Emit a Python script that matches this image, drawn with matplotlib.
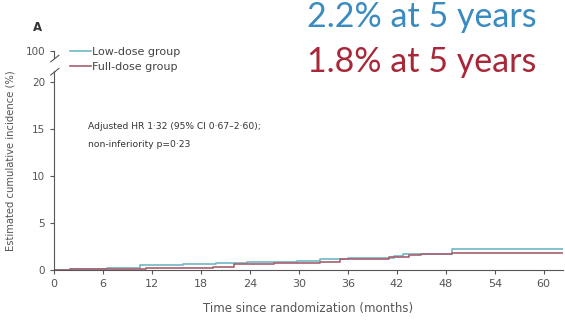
import matplotlib
matplotlib.use("Agg")
import matplotlib.pyplot as plt

# step-curve data (months, cumulative incidence %)
months_low = [0, 2, 6.5, 10.5, 15.8, 19.8, 23.7, 29.8, 32.6, 36, 41.6, 42.8, 48.8, 62.3]
inc_low    = [0, 0.1, 0.25, 0.5, 0.6, 0.7, 0.85, 1.0, 1.15, 1.3, 1.55, 1.75, 2.2, 2.2]
months_full = [0, 2, 11.3, 19.5, 22, 27, 32.6, 35, 41, 43.5, 45, 48.8, 62.3]
inc_full    = [0, 0.1, 0.2, 0.35, 0.6, 0.7, 0.9, 1.2, 1.4, 1.6, 1.7, 1.8, 1.8]

x_ticks = [0, 6, 12, 18, 24, 30, 36, 42, 48, 54, 60]
y_ticks = [0, 5, 10, 15, 20]
y_top = 23.3          # where "100" sits above the axis break
labels = ["Low-dose group", "Full-dose group"]
callouts = ["2.2% at 5 years", "1.8% at 5 years"]

TEAL, RED = "#6fb8c6", "#a8606e"
GREY = "#555555"

fig = plt.figure(figsize=(5.65, 3.25), dpi=100)
ax = fig.add_axes([0.0956, 0.169, 0.9, 0.674])

l1, = ax.step(months_low, inc_low, where="post", color=TEAL, lw=1.2, label=labels[0])
l2, = ax.step(months_full, inc_full, where="post", color=RED, lw=1.2, label=labels[1])

ax.set_xlim(0, 62.3)
ax.set_ylim(0, y_top)
ax.set_xticks(x_ticks)
ax.set_yticks(y_ticks + [y_top])
ax.set_yticklabels([str(v) for v in y_ticks] + ["100"])
ax.tick_params(colors=GREY, length=3, width=0.8)
ax.tick_params(axis="x", labelsize=8)
ax.tick_params(axis="y", labelsize=7.5)
for s in ["top", "right"]:
    ax.spines[s].set_visible(False)
for s in ["left", "bottom"]:
    ax.spines[s].set_color(GREY)
    ax.spines[s].set_linewidth(0.8)
ax.spines["left"].set_bounds(0, 21.2)
# short bit of axis next to the 100 tick and the break marks
ax.plot([0, 0], [22.6, y_top], color=GREY, lw=0.8, clip_on=False)
for yb in (21.1, 22.5):
    ax.plot([-0.4, 0.6], [yb - 0.35, yb + 0.35], color=GREY, lw=0.8, clip_on=False)

ax.set_xlabel("Time since randomization (months)", fontsize=8.5, color=GREY, labelpad=9)
ax.set_ylabel("Estimated cumulative incidence (%)", fontsize=7.2, color=GREY, labelpad=7)

ax.legend(handles=[l1, l2], loc="upper left", bbox_to_anchor=(0.106, 0.885),
          bbox_transform=fig.transFigure, frameon=False, fontsize=8,
          handlelength=1.9, handletextpad=0.1, labelspacing=0.4, labelcolor="#444444")

ax.text(4.2, 15.7, "Adjusted HR 1·32 (95% CI 0·67–2·60);\nnon-inferiority p=0·23",
        fontsize=6.6, color="#333333", va="top", linespacing=2.2)

fig.text(0.058, 0.915, "A", fontsize=8.5, fontweight="bold", color="#333333", ha="left", va="center")
fig.text(0.543, 0.917, callouts[0], fontsize=24.5, color="#3a8bc0", ha="left", va="baseline",
         family="Lato")
fig.text(0.543, 0.778, callouts[1], fontsize=24.5, color="#a8283a", ha="left", va="baseline",
         family="Lato")

fig.savefig("out.png", dpi=100)
